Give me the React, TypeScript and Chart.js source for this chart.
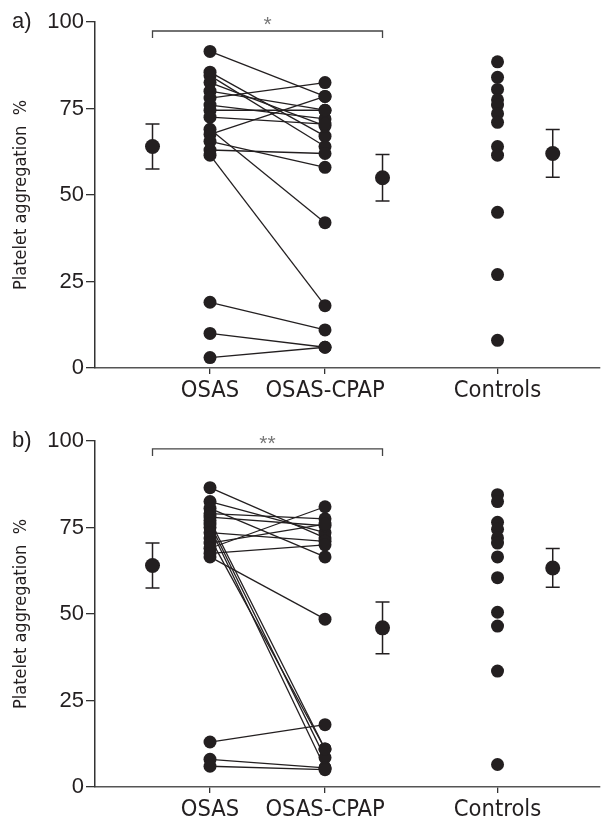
import React, { useEffect, useRef } from 'react';
import { Chart, registerables } from 'chart.js';
Chart.register(...registerables);

// ---- data ----
const CATEGORIES = ['OSAS', 'OSAS-CPAP', 'Controls'];
const CAT_X = [1, 2, 3.5];
const MEAN_X = [0.5, 2.5, 3.98];
const Y_TICKS = [0, 25, 50, 75, 100];
const PANEL_LABELS = ['a)', 'b)'];
const SIG_LABELS = ['*', '**'];
const Y_TITLE = 'Platelet aggregation  %';

const A_OSAS = [91.5, 85.5, 84.5, 82.5, 80, 78, 76, 74.5, 72.5, 69, 67.5, 65.5, 63, 61.5, 19, 10, 3];
const A_CPAP = [78.5, 67, 64, 70, 74.5, 82.5, 72, 74.5, 70.5, 42, 78.5, 58, 62, 18, 11, 6, 6];
const A_CONTROLS = [88.5, 84, 80.5, 77.5, 76, 73.5, 71, 64, 61.5, 45, 27, 8];
const A_MEANS = [64, 55, 62];
const A_ERRS = [6.5, 6.7, 6.9];
const A_BRACKET = [95.4, 97.4];

const B_OSAS = [86.5, 82.5, 80.5, 79, 78, 77, 76, 75, 73.5, 72, 70.5, 69, 67.5, 66.5, 13, 8, 6];
const B_CPAP = [72, 73.5, 66.5, 77.5, 75.5, 11, 8.5, 5.5, 71, 11, 76, 81, 70, 48.5, 18, 5.5, 5];
const B_CONTROLS = [84.5, 82.5, 76.5, 74.5, 72, 70.5, 66.5, 60.5, 50.5, 46.5, 33.5, 6.5];
const B_MEANS = [64, 46, 63.3];
const B_ERRS = [6.5, 7.5, 5.6];
const B_BRACKET = [95.7, 97.7];

const DARK = '#231f20';
const NARROW = "'Liberation Sans Narrow', 'DejaVu Sans Condensed', 'Roboto Condensed', sans-serif";
const REG = "'Liberation Sans', Arial, sans-serif";

type Panel = {
  osas: number[]; cpap: number[]; controls: number[];
  means: number[]; errs: number[]; bracket: number[];
  label: string; sig: string;
};

const PANELS: Panel[] = [
  { osas: A_OSAS, cpap: A_CPAP, controls: A_CONTROLS, means: A_MEANS, errs: A_ERRS, bracket: A_BRACKET, label: PANEL_LABELS[0], sig: SIG_LABELS[0] },
  { osas: B_OSAS, cpap: B_CPAP, controls: B_CONTROLS, means: B_MEANS, errs: B_ERRS, bracket: B_BRACKET, label: PANEL_LABELS[1], sig: SIG_LABELS[1] },
];

function PanelChart({ panel, height, xh, top }: { panel: Panel; height: number; xh: number; top: number }) {
  const ref = useRef<HTMLCanvasElement | null>(null);
  useEffect(() => {
    if (!ref.current) return;
    const pairDatasets = panel.osas.map((o, i) => ({
      data: [{ x: CAT_X[0], y: o }, { x: CAT_X[1], y: panel.cpap[i] }],
      showLine: true, pointRadius: 0, borderColor: DARK, borderWidth: 1.3, order: 3,
    }));
    const pointDs = (vals: number[], x: number) => ({
      data: vals.map((y) => ({ x, y })),
      pointRadius: 6.5, pointHoverRadius: 6.5, backgroundColor: DARK, borderColor: DARK, borderWidth: 0, order: 1,
    });
    const errorPlugin = {
      id: 'errbars',
      beforeDatasetsDraw(chart: any) {
        const { ctx, scales } = chart;
        ctx.save();
        ctx.strokeStyle = DARK;
        ctx.lineWidth = 1.5;
        panel.means.forEach((m, i) => {
          const x = scales.x.getPixelForValue(MEAN_X[i]);
          const y1 = scales.y.getPixelForValue(m + panel.errs[i]);
          const y2 = scales.y.getPixelForValue(m - panel.errs[i]);
          ctx.beginPath();
          ctx.moveTo(x, y1); ctx.lineTo(x, y2);
          ctx.moveTo(x - 7, y1); ctx.lineTo(x + 7, y1);
          ctx.moveTo(x - 7, y2); ctx.lineTo(x + 7, y2);
          ctx.stroke();
        });
        ctx.restore();
      },
      afterDraw(chart: any) {
        const { ctx, scales, chartArea } = chart;
        ctx.save();
        ctx.fillStyle = DARK;
        ctx.font = `22px ${REG}`;
        ctx.textAlign = 'left';
        ctx.textBaseline = 'middle';
        ctx.fillText(panel.label, 12, chartArea.top);
        ctx.fillStyle = '#777';
        ctx.font = `21px ${REG}`;
        ctx.textAlign = 'center';
        const sx = (scales.x.getPixelForValue(MEAN_X[0]) + scales.x.getPixelForValue(MEAN_X[1])) / 2;
        ctx.fillText(panel.sig, sx, scales.y.getPixelForValue(100.3) + 4);
        ctx.restore();
      },
    };
    const chart = new Chart(ref.current, {
      type: 'scatter',
      data: {
        datasets: [
          {
            data: panel.means.map((y, i) => ({ x: MEAN_X[i], y })),
            pointRadius: 7.5, pointHoverRadius: 7.5, backgroundColor: DARK, borderColor: DARK, borderWidth: 0, order: 0,
          },
          pointDs(panel.osas, CAT_X[0]),
          pointDs(panel.cpap, CAT_X[1]),
          pointDs(panel.controls, CAT_X[2]),
          ...pairDatasets,
          {
            data: [
              { x: MEAN_X[0], y: panel.bracket[0] }, { x: MEAN_X[0], y: panel.bracket[1] },
              { x: MEAN_X[1], y: panel.bracket[1] }, { x: MEAN_X[1], y: panel.bracket[0] },
            ],
            showLine: true, pointRadius: 0, borderColor: '#444', borderWidth: 1.3, order: 3, clip: false,
          },
        ] as any,
      },
      options: {
        animation: false,
        responsive: false,
        events: [],
        layout: { padding: { top: 22, right: 11, left: 0, bottom: 0 } },
        plugins: { legend: { display: false }, tooltip: { enabled: false } },
        scales: {
          x: {
            type: 'linear', min: 0, max: 4.391,
            afterFit: (s: any) => { s.height = xh; },
            afterBuildTicks: (s: any) => { s.ticks = CAT_X.map((v) => ({ value: v })); },
            ticks: {
              autoSkip: false, maxRotation: 0, padding: 3, color: DARK,
              font: { family: NARROW, size: 23.5 },
              callback: (v: any) => { const i = CAT_X.indexOf(Number(v)); return i >= 0 ? CATEGORIES[i] : ''; },
            },
            grid: { drawOnChartArea: false, drawTicks: true, tickLength: 6, color: '#333', lineWidth: 1.3 },
            border: { display: true, color: '#555', width: 1.5 },
          },
          y: {
            type: 'linear', min: 0, max: 100,
            afterFit: (s: any) => { s.width = 95; },
            afterBuildTicks: (s: any) => { s.ticks = Y_TICKS.map((v) => ({ value: v })); },
            ticks: { padding: 2, color: DARK, font: { family: REG, size: 22 } },
            grid: { drawOnChartArea: false, drawTicks: true, tickLength: 9, color: '#333', lineWidth: 1.3 },
            border: { display: true, color: '#333', width: 1.5 },
            title: { display: true, text: Y_TITLE, color: DARK, font: { family: NARROW, size: 18 }, padding: { top: 11, bottom: 0 } },
          },
        },
      } as any,
      plugins: [errorPlugin],
    });
    return () => chart.destroy();
  }, [panel, height, xh]);
  return (
    <canvas ref={ref} width={611} height={height}
      style={{ position: 'absolute', left: 0, top, width: 611, height }} />
  );
}

export default function App() {
  return (
    <div style={{ position: 'absolute', left: 0, top: 0, width: 611, height: 816, overflow: 'hidden', background: '#fff' }}>
      <PanelChart panel={PANELS[0]} height={408} xh={40} top={0} />
      <PanelChart panel={PANELS[1]} height={397} xh={29} top={419} />
    </div>
  );
}
